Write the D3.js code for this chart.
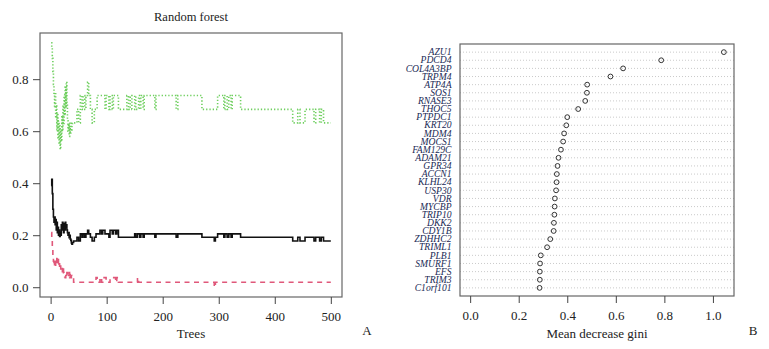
<!DOCTYPE html>
<html>
<head>
<meta charset="utf-8">
<script src="https://cdn.jsdelivr.net/npm/d3@7"></script>
<style>
body { margin: 0; background: #fff; }
</style>
</head>
<body>
<div class="displayArea"></div>
<script>
// ---- panel A: error rate vs number of trees, [tree, error] where the value changes ----
var oobError = [
    [1,.39],[2,.415],[3,.36],[4,.30],[5,.27],[6,.25],[7,.27],[8,.24],[9,.26],[10,.22],
    [11,.25],[12,.21],[13,.23],[14,.20],[15,.22],[16,.195],[17,.21],[18,.20],[19,.24],[20,.22],
    [21,.25],[22,.23],[23,.21],[24,.245],[25,.22],[26,.25],[27,.23],[28,.24],[29,.22],[30,.21],
    [31,.20],[32,.21],[33,.19],[34,.20],[35,.185],[36,.18],[37,.17],[38,.165],[39,.172],
    [41,.178],[47,.192],[50,.178],[53,.205],[56,.192],[58,.205],[61,.192],[63,.205],[66,.219],
    [68,.205],[71,.192],[74,.178],[78,.192],[81,.205],[88,.219],[91,.205],[93,.219],[97,.205],
    [104,.192],[106,.219],[110,.205],[112,.219],[116,.205],[118,.219],[121,.192],[150,.205],
    [152,.192],[155,.205],[159,.192],[161,.205],[165,.192],[167,.205],[186,.192],[188,.205],
    [224,.192],[227,.205],[270,.192],[292,.178],[294,.192],[298,.205],[309,.192],[311,.205],
    [315,.192],[318,.205],[322,.192],[324,.205],[339,.192],[432,.178],[441,.192],[445,.178],
    [454,.192],[470,.178],[473,.192],[480,.178],[483,.192],[487,.178],[500,.178]
]

var class0Error = [
    [1,.21],[2,.19],[3,.15],[4,.12],[5,.10],[6,.08],[7,.11],[8,.075],[9,.10],[10,.09],
    [11,.12],[12,.095],[13,.11],[14,.08],[15,.09],[16,.075],[17,.085],[18,.07],[19,.08],[20,.075],
    [21,.06],[22,.075],[23,.056],[24,.05],[25,.04],[26,.037],[27,.045],[28,.037],[29,.056],[30,.05],
    [31,.056],[32,.045],[33,.056],[34,.037],[35,.056],[36,.037],[37,.045],[38,.037],
    [41,.019],[81,.037],[83,.019],[88,.037],[91,.019],[93,.037],[99,.019],[106,.037],[116,.019],
    [118,.037],[121,.019],[155,.037],[157,.019],[292,0],[294,.019],[500,.019]
]

var class1Error = [
    [1,.94],[2,.92],[3,.88],[4,.83],[5,.78],[6,.74],[7,.69],[8,.75],[9,.65],[10,.70],
    [11,.60],[12,.67],[13,.57],[14,.64],[15,.55],[16,.62],[17,.53],[18,.60],[19,.56],[20,.66],
    [21,.60],[22,.70],[23,.63],[24,.74],[25,.66],[26,.77],[27,.69],[28,.79],[29,.70],[30,.64],
    [31,.60],[32,.63],[33,.58],[34,.62],[35,.59],[36,.63],[37,.60],[38,.63],[39,.632],
    [47,.684],[50,.632],[53,.737],[56,.684],[58,.737],[61,.684],[63,.737],[66,.789],[68,.737],
    [71,.684],[74,.632],[78,.684],[83,.737],[97,.684],[99,.737],[104,.684],[106,.737],[110,.684],
    [112,.737],[121,.684],[136,.737],[139,.684],[142,.737],[145,.684],[150,.737],[152,.684],
    [157,.737],[159,.684],[161,.737],[165,.684],[167,.737],[186,.684],[188,.737],[224,.684],
    [227,.737],[270,.684],[298,.737],[309,.684],[311,.737],[315,.684],[318,.737],[322,.684],
    [324,.737],[339,.684],[432,.632],[441,.684],[445,.632],[454,.684],[470,.632],[473,.684],
    [480,.632],[483,.684],[487,.632],[500,.632]
]

var treeTicks = [0, 100, 200, 300, 400, 500]
var errorTicks = [0.0, 0.2, 0.4, 0.6, 0.8]

// ---- panel B: variable importance ----
var genes = ["AZU1","PDCD4","COL4A3BP","TRPM4","ATP4A","SOS1","RNASE3","THOC5","PTPDC1","KRT20",
    "MDM4","MOCS1","FAM129C","ADAM21","GPR34","ACCN1","KLHL24","USP30","VDR","MYCBP",
    "TRIP10","DKK2","CDY1B","ZDHHC2","TRIML1","PLB1","SMURF1","EFS","TRIM3","C1orf101"]
var giniValues = [1.045,0.787,0.630,0.578,0.482,0.481,0.474,0.445,0.400,0.396,
    0.387,0.383,0.374,0.364,0.360,0.357,0.356,0.354,0.349,0.348,
    0.347,0.345,0.344,0.330,0.317,0.291,0.288,0.287,0.287,0.286]
var giniTicks = [0.0, 0.2, 0.4, 0.6, 0.8, 1.0]

var W = 769, H = 349
var FONT = "'Liberation Serif', 'DejaVu Serif', serif"
var boxA = {left: 40, right: 342, top: 33, bottom: 297}
var boxB = {left: 460, right: 734, top: 44, bottom: 296}

function padded(lo, hi){ // R style 4% axis extension
    var e = (hi - lo) * 0.04
    return [lo - e, hi + e]
}

var svg = d3.select(".displayArea")
    .append("svg")
    .attr("width", W)
    .attr("height", H);

function label(x, y, txt, size){ // plain centred text
    return svg.append("text")
        .attr("x", x).attr("y", y)
        .attr("text-anchor", "middle")
        .attr("font-family", FONT)
        .attr("font-size", size)
        .attr("fill", "#222")
        .text(txt);
}

// ================= panel A =================
var allErr = oobError.concat(class0Error, class1Error).map(function(d){ return d[1] })

var xA = d3.scaleLinear()
    .domain(padded(1, 500))
    .range([boxA.left, boxA.right]);

var yA = d3.scaleLinear()
    .domain(padded(d3.min(allErr), d3.max(allErr)))
    .range([boxA.bottom, boxA.top]);

var errLine = d3.line()
    .x(function(d){ return xA(d[0]) })
    .y(function(d){ return yA(d[1]) })
    .curve(d3.curveStepAfter);

var series = [
    {data: oobError, color: "#111", dash: null, w: 1.6},
    {data: class0Error, color: "#e0587a", dash: "5,4.5", w: 1.6},
    {data: class1Error, color: "#6fcf5f", dash: "1.3,2", w: 1.6}
]

series.forEach(function(s){
    svg.append("path")
        .attr("d", errLine(s.data))
        .attr("fill", "none")
        .attr("stroke", s.color)
        .attr("stroke-width", s.w)
        .attr("stroke-dasharray", s.dash);
})

svg.append("rect")
    .attr("x", boxA.left).attr("y", boxA.top)
    .attr("width", boxA.right - boxA.left)
    .attr("height", boxA.bottom - boxA.top)
    .attr("fill", "none").attr("stroke", "#666").attr("stroke-width", 1.2);

var xAxisA = svg.append("g")
    .attr("transform", `translate(0,${boxA.bottom})`)
    .call(d3.axisBottom(xA).tickValues(treeTicks).tickSize(7).tickPadding(8).tickFormat(d3.format("d")));

var yAxisA = svg.append("g")
    .attr("transform", `translate(${boxA.left},0)`)
    .call(d3.axisLeft(yA).tickValues(errorTicks).tickSize(7).tickPadding(4.5).tickFormat(d3.format(".1f")));

[xAxisA, yAxisA].forEach(function(ax){
    ax.attr("font-family", FONT).attr("font-size", 13)
    ax.select(".domain").remove()
    ax.selectAll("line").attr("stroke", "#444")
    ax.selectAll("text").attr("fill", "#222")
})

label((boxA.left + boxA.right) / 2, 21, "Random forest", 12.5)
label((boxA.left + boxA.right) / 2, 338, "Trees", 13)
label(367, 334.5, "A", 13)

// ================= panel B =================
var xB = d3.scaleLinear()
    .domain(padded(0, d3.max(giniValues)))
    .range([boxB.left, boxB.right]);

var yB = d3.scaleLinear()
    .domain([0, genes.length + 1]) // dotchart rows 1..n, top row = first gene
    .range([boxB.bottom, boxB.top]);

function rowY(i){ return yB(genes.length - i) }

svg.selectAll(".grid")
    .data(genes)
    .enter()
    .append("line")
    .attr("x1", boxB.left).attr("x2", boxB.right)
    .attr("y1", function(d, i){ return rowY(i) })
    .attr("y2", function(d, i){ return rowY(i) })
    .attr("stroke", "#c4c4c4").attr("stroke-width", 0.9)
    .attr("stroke-dasharray", "1,2");

svg.selectAll(".gene")
    .data(genes)
    .enter()
    .append("text")
    .attr("x", boxB.left - 8.5)
    .attr("y", function(d, i){ return rowY(i) + 3.2 })
    .attr("text-anchor", "end")
    .attr("font-family", FONT)
    .attr("font-size", 9.6)
    .attr("font-style", "italic")
    .attr("fill", "#1a2a55")
    .text(function(d){ return d });

svg.selectAll(".pt")
    .data(giniValues)
    .enter()
    .append("circle")
    .attr("cx", function(d){ return xB(d) })
    .attr("cy", function(d, i){ return rowY(i) })
    .attr("r", 2.4)
    .attr("fill", "none").attr("stroke", "#333").attr("stroke-width", 1);

svg.append("rect")
    .attr("x", boxB.left).attr("y", boxB.top)
    .attr("width", boxB.right - boxB.left)
    .attr("height", boxB.bottom - boxB.top)
    .attr("fill", "none").attr("stroke", "#666").attr("stroke-width", 1.2);

var xAxisB = svg.append("g")
    .attr("transform", `translate(0,${boxB.bottom})`)
    .attr("font-family", FONT).attr("font-size", 13)
    .call(d3.axisBottom(xB).tickValues(giniTicks).tickSize(7).tickPadding(8).tickFormat(d3.format(".1f")));

xAxisB.attr("font-family", FONT).attr("font-size", 13)
xAxisB.select(".domain").remove()
xAxisB.selectAll("line").attr("stroke", "#444")
xAxisB.selectAll("text").attr("fill", "#222")

label((boxB.left + boxB.right) / 2, 337.5, "Mean decrease gini", 13)
label(753, 335, "B", 13)
</script>
</body>
</html>
